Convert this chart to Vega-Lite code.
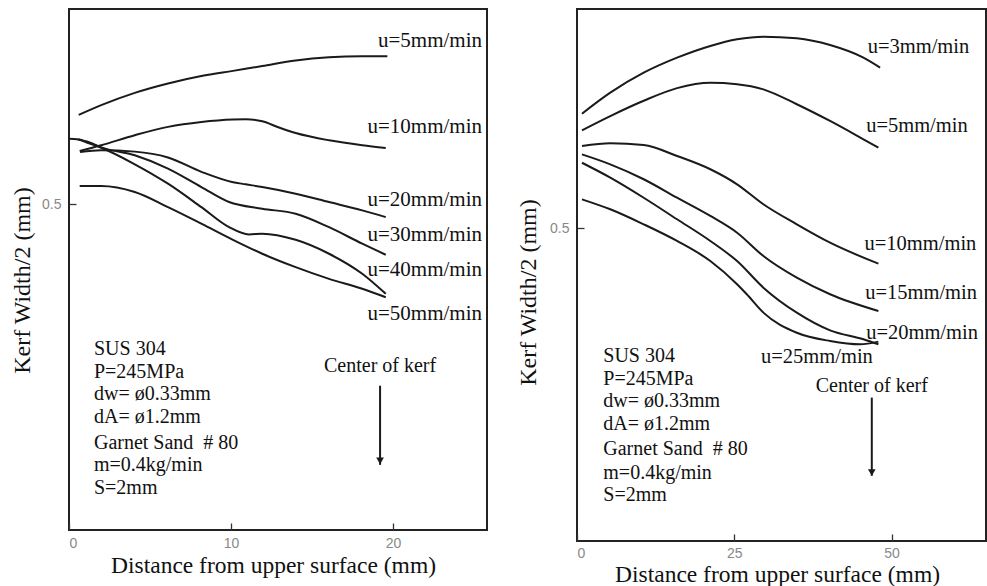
{
  "$schema": "https://vega.github.io/schema/vega-lite/v6.json",
  "padding": {"left": 9, "top": 8, "right": 0, "bottom": 0},
  "background": "white",
  "spacing": 27,
  "datasets": {
    "leftCurves": [
      {"s": "u5", "x": 0.60, "y": 0.5687}, {"s": "u5", "x": 1.99, "y": 0.5762}, {"s": "u5", "x": 4.06, "y": 0.5856}, {"s": "u5", "x": 6.11, "y": 0.5928}, {"s": "u5", "x": 8.17, "y": 0.5985}, {"s": "u5", "x": 10.12, "y": 0.6025}, {"s": "u5", "x": 11.93, "y": 0.6062}, {"s": "u5", "x": 13.99, "y": 0.6105}, {"s": "u5", "x": 16.05, "y": 0.6130}, {"s": "u5", "x": 18.10, "y": 0.6138}, {"s": "u5", "x": 19.65, "y": 0.6138},
      {"s": "u10", "x": 0.66, "y": 0.5410}, {"s": "u10", "x": 1.99, "y": 0.5454}, {"s": "u10", "x": 4.06, "y": 0.5531}, {"s": "u10", "x": 6.11, "y": 0.5595}, {"s": "u10", "x": 8.17, "y": 0.5633}, {"s": "u10", "x": 10.12, "y": 0.5652}, {"s": "u10", "x": 10.91, "y": 0.5654}, {"s": "u10", "x": 11.93, "y": 0.5638}, {"s": "u10", "x": 12.96, "y": 0.5590}, {"s": "u10", "x": 13.99, "y": 0.5548}, {"s": "u10", "x": 16.05, "y": 0.5492}, {"s": "u10", "x": 18.10, "y": 0.5454}, {"s": "u10", "x": 19.55, "y": 0.5433},
      {"s": "u20", "x": 0.68, "y": 0.5402}, {"s": "u20", "x": 1.99, "y": 0.5415}, {"s": "u20", "x": 4.06, "y": 0.5405}, {"s": "u20", "x": 6.11, "y": 0.5360}, {"s": "u20", "x": 8.17, "y": 0.5250}, {"s": "u20", "x": 10.06, "y": 0.5172}, {"s": "u20", "x": 10.91, "y": 0.5154}, {"s": "u20", "x": 11.93, "y": 0.5133}, {"s": "u20", "x": 13.99, "y": 0.5082}, {"s": "u20", "x": 16.05, "y": 0.5018}, {"s": "u20", "x": 18.10, "y": 0.4954}, {"s": "u20", "x": 19.55, "y": 0.4902},
      {"s": "u30", "x": 0.56, "y": 0.5500}, {"s": "u30", "x": 1.23, "y": 0.5477}, {"s": "u30", "x": 1.99, "y": 0.5438}, {"s": "u30", "x": 4.06, "y": 0.5377}, {"s": "u30", "x": 6.11, "y": 0.5275}, {"s": "u30", "x": 8.17, "y": 0.5133}, {"s": "u30", "x": 9.88, "y": 0.5018}, {"s": "u30", "x": 11.93, "y": 0.4967}, {"s": "u30", "x": 13.99, "y": 0.4928}, {"s": "u30", "x": 16.05, "y": 0.4825}, {"s": "u30", "x": 18.10, "y": 0.4698}, {"s": "u30", "x": 19.55, "y": 0.4613},
      {"s": "u40", "x": 0.0, "y": 0.5504}, {"s": "u40", "x": 0.49, "y": 0.5500}, {"s": "u40", "x": 1.23, "y": 0.5469}, {"s": "u40", "x": 1.99, "y": 0.5435}, {"s": "u40", "x": 4.06, "y": 0.5308}, {"s": "u40", "x": 6.11, "y": 0.5159}, {"s": "u40", "x": 8.17, "y": 0.4979}, {"s": "u40", "x": 9.88, "y": 0.4825}, {"s": "u40", "x": 11.11, "y": 0.4769}, {"s": "u40", "x": 11.93, "y": 0.4775}, {"s": "u40", "x": 13.99, "y": 0.4728}, {"s": "u40", "x": 16.05, "y": 0.4621}, {"s": "u40", "x": 18.10, "y": 0.4467}, {"s": "u40", "x": 19.55, "y": 0.4313},
      {"s": "u50", "x": 0.66, "y": 0.5141}, {"s": "u50", "x": 1.98, "y": 0.5141}, {"s": "u50", "x": 4.06, "y": 0.5095}, {"s": "u50", "x": 6.11, "y": 0.4979}, {"s": "u50", "x": 8.17, "y": 0.4852}, {"s": "u50", "x": 10.12, "y": 0.4728}, {"s": "u50", "x": 11.93, "y": 0.4621}, {"s": "u50", "x": 13.99, "y": 0.4518}, {"s": "u50", "x": 16.05, "y": 0.4428}, {"s": "u50", "x": 18.10, "y": 0.4352}, {"s": "u50", "x": 19.55, "y": 0.4287}
    ],
    "leftLabels": [
      {"t": "u=5mm/min", "x": 25.49, "y": 0.6256},
      {"t": "u=10mm/min", "x": 25.49, "y": 0.5595},
      {"t": "u=20mm/min", "x": 25.49, "y": 0.5036},
      {"t": "u=30mm/min", "x": 25.49, "y": 0.4762},
      {"t": "u=40mm/min", "x": 25.49, "y": 0.4498},
      {"t": "u=50mm/min", "x": 25.49, "y": 0.4159}
    ],
    "leftNotes": [
      {"t": "SUS 304", "x": 1.54, "y": 0.3890},
      {"t": "P=245MPa", "x": 1.54, "y": 0.3715},
      {"t": "dw= ø0.33mm", "x": 1.54, "y": 0.3544},
      {"t": "dA= ø1.2mm", "x": 1.54, "y": 0.3369},
      {"t": "Garnet Sand\u00a0\u00a0#\u00a080", "x": 1.54, "y": 0.3171},
      {"t": "m=0.4kg/min", "x": 1.54, "y": 0.2998},
      {"t": "S=2mm", "x": 1.54, "y": 0.2825}
    ],
    "leftCenter": [{"t": "Center of kerf", "x": 19.2, "y": 0.3762}],
    "leftArrow": [{"x": 19.2, "y": 0.3608, "y2": 0.3000, "tip": 0.3030}],
    "rightCurves": [
      {"s": "u3", "x": 0.79, "y": 0.5863}, {"s": "u3", "x": 5.29, "y": 0.6021}, {"s": "u3", "x": 10.60, "y": 0.6171}, {"s": "u3", "x": 15.90, "y": 0.6284}, {"s": "u3", "x": 21.19, "y": 0.6372}, {"s": "u3", "x": 25.44, "y": 0.6422}, {"s": "u3", "x": 29.62, "y": 0.6442}, {"s": "u3", "x": 34.93, "y": 0.6430}, {"s": "u3", "x": 40.22, "y": 0.6379}, {"s": "u3", "x": 45.52, "y": 0.6284}, {"s": "u3", "x": 48.17, "y": 0.6209},
      {"s": "u5", "x": 0.79, "y": 0.5738}, {"s": "u5", "x": 5.29, "y": 0.5845}, {"s": "u5", "x": 10.60, "y": 0.5960}, {"s": "u5", "x": 15.90, "y": 0.6055}, {"s": "u5", "x": 21.19, "y": 0.6096}, {"s": "u5", "x": 25.44, "y": 0.6085}, {"s": "u5", "x": 29.62, "y": 0.6046}, {"s": "u5", "x": 34.93, "y": 0.5934}, {"s": "u5", "x": 40.22, "y": 0.5808}, {"s": "u5", "x": 45.52, "y": 0.5670}, {"s": "u5", "x": 47.90, "y": 0.5607},
      {"s": "u10", "x": 0.79, "y": 0.5620}, {"s": "u10", "x": 5.29, "y": 0.5640}, {"s": "u10", "x": 10.60, "y": 0.5627}, {"s": "u10", "x": 15.90, "y": 0.5545}, {"s": "u10", "x": 21.19, "y": 0.5445}, {"s": "u10", "x": 25.44, "y": 0.5332}, {"s": "u10", "x": 29.62, "y": 0.5182}, {"s": "u10", "x": 34.93, "y": 0.5031}, {"s": "u10", "x": 40.22, "y": 0.4893}, {"s": "u10", "x": 47.90, "y": 0.4735},
      {"s": "u15", "x": 0.79, "y": 0.5557}, {"s": "u15", "x": 5.29, "y": 0.5482}, {"s": "u15", "x": 10.60, "y": 0.5370}, {"s": "u15", "x": 15.90, "y": 0.5231}, {"s": "u15", "x": 21.19, "y": 0.5094}, {"s": "u15", "x": 25.44, "y": 0.4968}, {"s": "u15", "x": 29.62, "y": 0.4793}, {"s": "u15", "x": 34.93, "y": 0.4630}, {"s": "u15", "x": 40.22, "y": 0.4505}, {"s": "u15", "x": 47.90, "y": 0.4379},
      {"s": "u20", "x": 0.79, "y": 0.5494}, {"s": "u20", "x": 5.29, "y": 0.5382}, {"s": "u20", "x": 10.60, "y": 0.5231}, {"s": "u20", "x": 15.90, "y": 0.5069}, {"s": "u20", "x": 21.19, "y": 0.4906}, {"s": "u20", "x": 25.44, "y": 0.4755}, {"s": "u20", "x": 29.62, "y": 0.4555}, {"s": "u20", "x": 34.93, "y": 0.4367}, {"s": "u20", "x": 40.22, "y": 0.4234}, {"s": "u20", "x": 45.52, "y": 0.4167}, {"s": "u20", "x": 47.90, "y": 0.4129},
      {"s": "u25", "x": 0.79, "y": 0.5219}, {"s": "u25", "x": 5.29, "y": 0.5144}, {"s": "u25", "x": 10.60, "y": 0.5031}, {"s": "u25", "x": 15.90, "y": 0.4906}, {"s": "u25", "x": 21.19, "y": 0.4755}, {"s": "u25", "x": 25.44, "y": 0.4580}, {"s": "u25", "x": 26.98, "y": 0.4505}, {"s": "u25", "x": 29.62, "y": 0.4367}, {"s": "u25", "x": 34.93, "y": 0.4216}, {"s": "u25", "x": 40.22, "y": 0.4154}, {"s": "u25", "x": 45.0, "y": 0.4129}, {"s": "u25", "x": 47.90, "y": 0.4149}
    ],
    "rightLabels": [
      {"t": "u=3mm/min", "x": 46.2, "y": 0.6367},
      {"t": "u=5mm/min", "x": 45.95, "y": 0.5770},
      {"t": "u=10mm/min", "x": 45.7, "y": 0.4885},
      {"t": "u=15mm/min", "x": 45.8, "y": 0.4517},
      {"t": "u=20mm/min", "x": 45.95, "y": 0.4216},
      {"t": "u=25mm/min", "x": 29.25, "y": 0.4033}
    ],
    "rightNotes": [
      {"t": "SUS 304", "x": 4.18, "y": 0.4041},
      {"t": "P=245MPa", "x": 4.18, "y": 0.3866},
      {"t": "dw= ø0.33mm", "x": 4.18, "y": 0.3703},
      {"t": "dA= ø1.2mm", "x": 4.18, "y": 0.3532},
      {"t": "Garnet Sand\u00a0\u00a0#\u00a080", "x": 4.18, "y": 0.3340},
      {"t": "m=0.4kg/min", "x": 4.18, "y": 0.3164},
      {"t": "S=2mm", "x": 4.18, "y": 0.2994}
    ],
    "rightCenter": [{"t": "Center of kerf", "x": 46.85, "y": 0.3815}],
    "rightArrow": [{"x": 46.85, "y": 0.3728, "y2": 0.3140, "tip": 0.3165}]
  },
  "hconcat": [
    {
      "width": 418,
      "height": 521,
      "layer": [
        {
          "data": {"name": "leftCurves"},
          "mark": {"type": "line", "interpolate": "monotone", "color": "#1a1a1a", "strokeWidth": 2},
          "encoding": {
            "x": {"field": "x", "type": "quantitative", "scale": {"domain": [0, 25.8], "nice": false, "zero": false},
                  "axis": {"values": [0, 10, 20], "title": "Distance from upper surface (mm)", "labelPadding": 6, "titlePadding": 3, "titleX": 204}},
            "y": {"field": "y", "type": "quantitative", "scale": {"domain": [0.25, 0.65], "nice": false, "zero": false},
                  "axis": {"values": [0.5], "format": ".1f", "title": "Kerf Width/2 (mm)", "labelPadding": 8, "titlePadding": 7, "titleY": 271}},
            "detail": {"field": "s"}
          }
        },
        {
          "data": {"name": "leftLabels"},
          "mark": {"type": "text", "align": "right", "baseline": "middle", "fontSize": 21},
          "encoding": {"x": {"field": "x", "type": "quantitative"}, "y": {"field": "y", "type": "quantitative"}, "text": {"field": "t"}}
        },
        {
          "data": {"name": "leftNotes"},
          "mark": {"type": "text", "align": "left", "baseline": "middle"},
          "encoding": {"x": {"field": "x", "type": "quantitative"}, "y": {"field": "y", "type": "quantitative"}, "text": {"field": "t"}}
        },
        {
          "data": {"name": "leftCenter"},
          "mark": {"type": "text", "align": "center", "baseline": "middle"},
          "encoding": {"x": {"field": "x", "type": "quantitative"}, "y": {"field": "y", "type": "quantitative"}, "text": {"field": "t"}}
        },
        {
          "data": {"name": "leftArrow"},
          "mark": {"type": "rule", "color": "#1a1a1a", "strokeWidth": 2},
          "encoding": {"x": {"field": "x", "type": "quantitative"}, "y": {"field": "y", "type": "quantitative"}, "y2": {"field": "y2"}}
        },
        {
          "data": {"name": "leftArrow"},
          "mark": {"type": "point", "shape": "triangle-down", "filled": true, "color": "#1a1a1a", "size": 60, "opacity": 1},
          "encoding": {"x": {"field": "x", "type": "quantitative"}, "y": {"field": "tip", "type": "quantitative"}}
        }
      ]
    },
    {
      "width": 409,
      "height": 532,
      "layer": [
        {
          "data": {"name": "rightCurves"},
          "mark": {"type": "line", "interpolate": "monotone", "color": "#1a1a1a", "strokeWidth": 2},
          "encoding": {
            "x": {"field": "x", "type": "quantitative", "scale": {"domain": [0, 65], "nice": false, "zero": false},
                  "axis": {"values": [0, 25, 50], "title": "Distance from upper surface (mm)", "labelPadding": 5, "titlePadding": 2, "titleX": 200}},
            "y": {"field": "y", "type": "quantitative", "scale": {"domain": [0.265, 0.665], "nice": false, "zero": false},
                  "axis": {"values": [0.5], "format": ".1f", "title": "Kerf Width/2 (mm)", "labelPadding": 8, "titlePadding": 9, "titleY": 283}},
            "detail": {"field": "s"}
          }
        },
        {
          "data": {"name": "rightLabels"},
          "mark": {"type": "text", "align": "left", "baseline": "middle", "fontSize": 20.5},
          "encoding": {"x": {"field": "x", "type": "quantitative"}, "y": {"field": "y", "type": "quantitative"}, "text": {"field": "t"}}
        },
        {
          "data": {"name": "rightNotes"},
          "mark": {"type": "text", "align": "left", "baseline": "middle"},
          "encoding": {"x": {"field": "x", "type": "quantitative"}, "y": {"field": "y", "type": "quantitative"}, "text": {"field": "t"}}
        },
        {
          "data": {"name": "rightCenter"},
          "mark": {"type": "text", "align": "center", "baseline": "middle"},
          "encoding": {"x": {"field": "x", "type": "quantitative"}, "y": {"field": "y", "type": "quantitative"}, "text": {"field": "t"}}
        },
        {
          "data": {"name": "rightArrow"},
          "mark": {"type": "rule", "color": "#1a1a1a", "strokeWidth": 2},
          "encoding": {"x": {"field": "x", "type": "quantitative"}, "y": {"field": "y", "type": "quantitative"}, "y2": {"field": "y2"}}
        },
        {
          "data": {"name": "rightArrow"},
          "mark": {"type": "point", "shape": "triangle-down", "filled": true, "color": "#1a1a1a", "size": 60, "opacity": 1},
          "encoding": {"x": {"field": "x", "type": "quantitative"}, "y": {"field": "tip", "type": "quantitative"}}
        }
      ]
    }
  ],
  "config": {
    "view": {"stroke": "#222", "strokeWidth": 2},
    "axis": {
      "grid": false,
      "domain": false,
      "offset": -7,
      "tickColor": "#333",
      "tickSize": 7,
      "tickWidth": 1.3,
      "labelFont": "Liberation Sans",
      "labelFontSize": 14,
      "labelColor": "#888",
      "titleFont": "Liberation Serif",
      "titleFontSize": 23.5,
      "titleFontWeight": "normal",
      "titleColor": "#111"
    },
    "axisY": {"titleFontSize": 24},
    "text": {"font": "Liberation Serif", "fontSize": 20, "color": "#111"}
  }
}
